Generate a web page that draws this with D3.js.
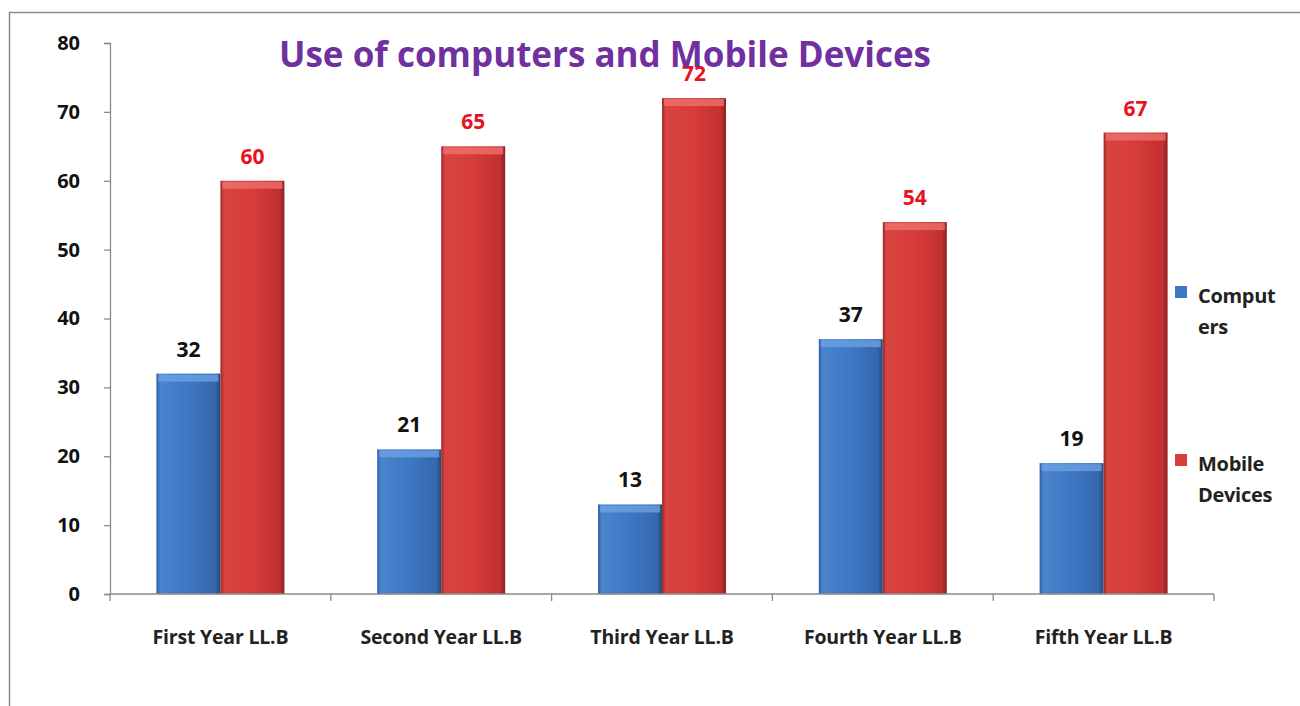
<!DOCTYPE html>
<html><head><meta charset="utf-8">
<script src="https://cdn.jsdelivr.net/npm/d3@7"></script>
<style>body{margin:0;background:#fff}svg{display:block}</style>
</head><body>
<script>
const categories = ["First Year LL.B","Second Year LL.B","Third Year LL.B","Fourth Year LL.B","Fifth Year LL.B"];
const computers = [32,21,13,37,19];
const mobile = [60,65,72,54,67];
const seriesNames = ["Computers","Mobile Devices"];
const yTicks = [0,10,20,30,40,50,60,70,80];
const title = "Use of computers and Mobile Devices";

const W=1300,H=706;
const svg=d3.select("body").append("svg").attr("width",W).attr("height",H);
const defs=svg.append("defs");
function grad(id,stops){const g=defs.append("linearGradient").attr("id",id).attr("x1","0").attr("x2","1").attr("y1","0").attr("y2","0");
 stops.forEach(s=>g.append("stop").attr("offset",s[0]).attr("stop-color",s[1]));}
grad("gBlue",[[0,"#2f5f9f"],[0.06,"#4a84cc"],[0.5,"#3d78c4"],[0.92,"#3568ad"],[1,"#24487a"]]);
grad("gRed",[[0,"#9c2a28"],[0.06,"#d84440"],[0.5,"#d63c3a"],[0.92,"#c2302f"],[1,"#8a2221"]]);

svg.append("rect").attr("x",9.5).attr("y",12.5).attr("width",W).attr("height",H).attr("fill","#fff").attr("stroke","#8c8c8c").attr("stroke-width",1.5);

const x0=110,x1=1214,yTop=43,yBot=594;
const x=d3.scaleBand().domain(categories).range([x0,x1]).paddingInner(0).paddingOuter(0);
const y=d3.scaleLinear().domain([0,80]).range([yBot,yTop]);
const bw=64;
const font="'Open Sans','DejaVu Sans',sans-serif";

// y axis
const ya=svg.append("g").attr("transform",`translate(${x0},0)`).call(d3.axisLeft(y).tickValues(yTicks).tickSize(6).tickPadding(24));
ya.select(".domain").attr("stroke","#8a8a8a").attr("stroke-width",1.3);
ya.selectAll(".tick line").attr("stroke","#8a8a8a").attr("stroke-width",1.3);
ya.selectAll("text").attr("font-family",font).attr("font-weight","bold").attr("font-size",20).attr("fill","#111");

// bars
const series=[computers,mobile];
const fills=["url(#gBlue)","url(#gRed)"];
const tops=["#6fa3e6","#f07470"];
const lblCol=["#111","#e8111e"];
categories.forEach((c,i)=>{
  const cx=x(c)+x.bandwidth()/2;
  series.forEach((s,k)=>{
    const v=s[i];
    const bx=cx-bw+k*bw, by=y(v), bh=y(0)-y(v);
    svg.append("rect").attr("x",bx).attr("y",by).attr("width",bw).attr("height",bh).attr("fill",fills[k]);
    svg.append("rect").attr("x",bx+2).attr("y",by+1).attr("width",bw-4).attr("height",7).attr("fill",tops[k]).attr("opacity",0.75);
    svg.append("text").attr("x",bx+bw/2).attr("y",by-17).attr("text-anchor","middle")
      .attr("font-family",font).attr("font-weight","bold").attr("font-size",21).attr("fill",lblCol[k]).text(v);
  });
});

// x axis
const xa=svg.append("g").attr("transform",`translate(0,${yBot})`);
xa.append("line").attr("x1",x0).attr("x2",x1).attr("stroke","#8a8a8a").attr("stroke-width",1.3);
const bounds=categories.map(c=>x(c)).concat([x1]);
xa.selectAll("line.t").data(bounds).enter().append("line").attr("x1",d=>d).attr("x2",d=>d).attr("y1",0).attr("y2",7).attr("stroke","#8a8a8a").attr("stroke-width",1.3);
xa.selectAll("text").data(categories).enter().append("text").attr("x",d=>x(d)+x.bandwidth()/2).attr("y",50)
  .attr("text-anchor","middle").attr("font-family",font).attr("font-weight","bold").attr("font-size",19.5).attr("fill","#222")
  .attr("letter-spacing",-0.2).text(d=>d);

// title
svg.append("text").attr("x",605).attr("y",67).attr("text-anchor","middle").attr("font-family",font).attr("font-weight","bold")
  .attr("font-size",35).attr("fill","#7030a0").text(title);

// legend
const legCols=["#3d78c4","#d63c3a"];
const legLines=[["Comput","ers"],["Mobile","Devices"]];
const legY=[296,464];
legLines.forEach((ls,k)=>{
  svg.append("rect").attr("x",1175).attr("y",legY[k]-10).attr("width",12).attr("height",12).attr("fill",legCols[k]);
  ls.forEach((t,j)=>svg.append("text").attr("x",1198).attr("y",legY[k]+7+j*31).attr("font-family",font).attr("font-weight","bold")
   .attr("font-size",20).attr("fill","#222").attr("letter-spacing",-0.3).text(t));
});
</script>
</body></html>
